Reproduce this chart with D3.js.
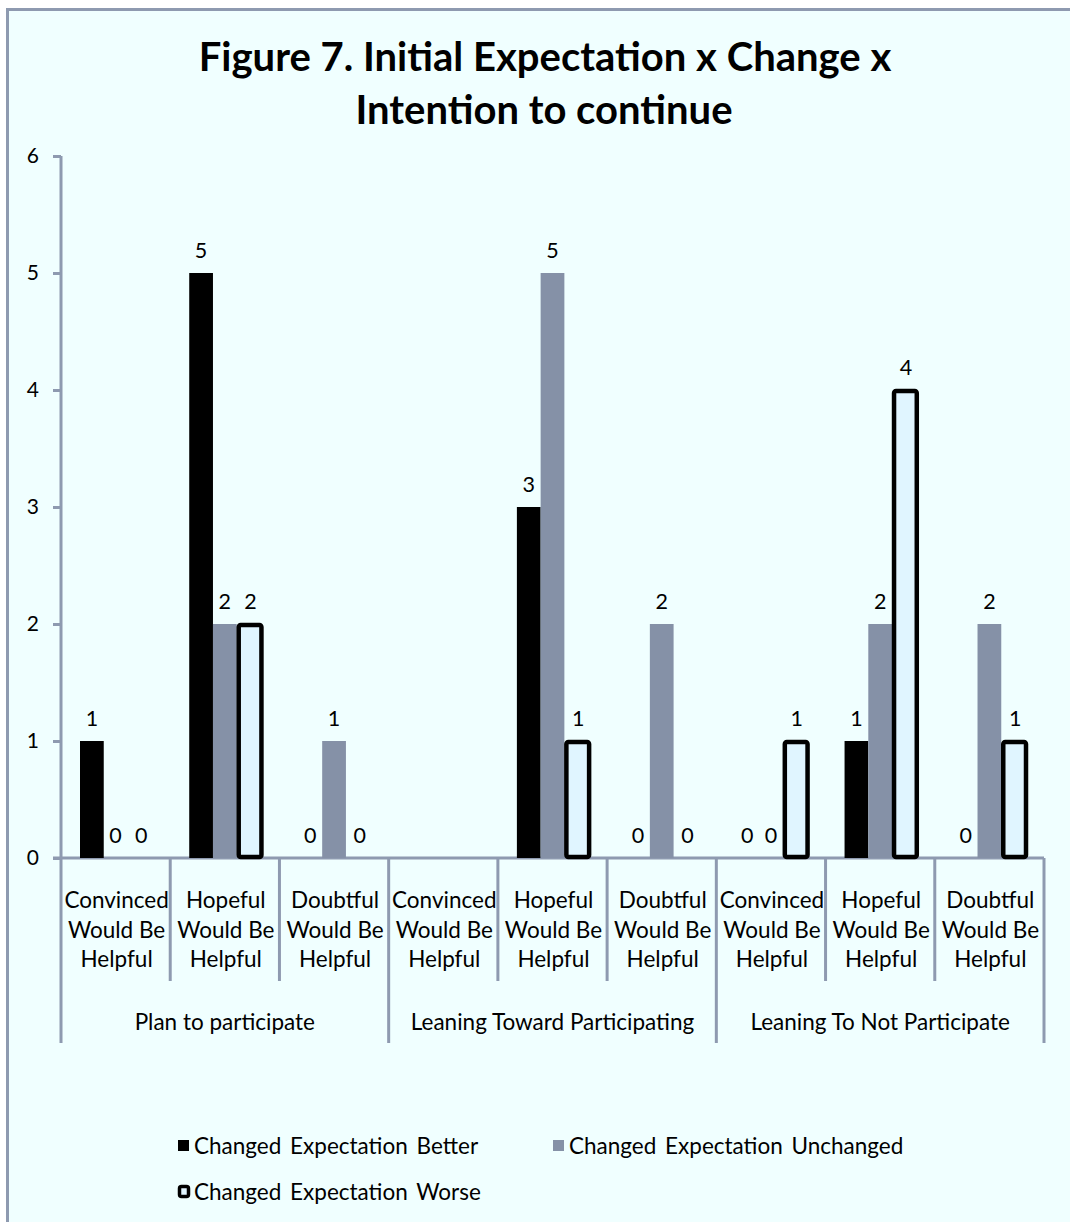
<!DOCTYPE html>
<html>
<head>
<meta charset="utf-8">
<script src="https://cdn.jsdelivr.net/npm/d3@7"></script>
<style>
  html, body { margin: 0; padding: 0; background: #ffffff; }
  svg { display: block; }
  text { font-family: Lato, "Open Sans", sans-serif; fill: #000; }
</style>
</head>
<body>
<svg id="chart" width="1070" height="1222"></svg>
<script>
// Outer grouping (intention to continue) and inner grouping (initial expectation)
const groups = ["Plan to participate", "Leaning Toward Participating", "Leaning To Not Participate"];
const subcats = [["Convinced", "Would Be", "Helpful"], ["Hopeful", "Would Be", "Helpful"], ["Doubtful", "Would Be", "Helpful"]];
const seriesNames = ["Changed Expectation Better", "Changed Expectation Unchanged", "Changed Expectation Worse"];

// Counts per category, in group order (null = no data for that cell)
const better    = [1, 5, 0,  null, 3, 0,  0, 1, 0];
const unchanged = [0, 2, 1,  null, 5, 2,  0, 2, 2];
const worse     = [0, 2, 0,  null, 1, 0,  1, 4, 1];

const yTicks = [0, 1, 2, 3, 4, 5, 6];

const colors = { better: "#000000", unchanged: "#8591a7", worse: "#e0f5ff" };
const axisColor = "#8e9ab0";

const svg = d3.select("#chart");

// Chart area background with its frame
svg.append("rect")
  .attr("x", 7.5).attr("y", 9.5)
  .attr("width", 1200).attr("height", 1400)
  .attr("fill", "#f0ffff")
  .attr("stroke", axisColor).attr("stroke-width", 3);

// Title
const title = svg.append("text")
  .attr("text-anchor", "middle")
  .style("font-weight", "bold").style("font-size", "40px");
title.append("tspan").attr("x", 545).attr("y", 71).text("Figure 7. Initial Expectation x Change x");
title.append("tspan").attr("x", 544).attr("y", 124).text("Intention to continue");

// Scales
const cats = d3.range(groups.length * subcats.length);
const x0 = d3.scaleBand().domain(cats).range([61, 1044]).padding(0);
const x1 = d3.scaleBand().domain([0, 1, 2]).range([19, x0.bandwidth() - 19]).padding(0);
const y = d3.scaleLinear().domain([0, 6]).range([858, 156]);

// Y axis
const yAxis = svg.append("g")
  .attr("transform", "translate(61,0)")
  .call(d3.axisLeft(y).tickValues(yTicks).tickSize(8).tickPadding(14).tickFormat(d3.format("d")));
yAxis.select(".domain").remove();
yAxis.selectAll(".tick line").attr("stroke", axisColor).attr("stroke-width", 3);
yAxis.selectAll(".tick text").style("font-size", "21px").style("font-family", "Lato, sans-serif").attr("fill", "#000");

// Vertical axis line, continued down as the outer group divider
svg.append("line")
  .attr("x1", 61).attr("x2", 61).attr("y1", y(6)).attr("y2", 1043)
  .attr("stroke", axisColor).attr("stroke-width", 3);

// Baseline
svg.append("line")
  .attr("x1", 53).attr("x2", x0.range()[1]).attr("y1", y(0)).attr("y2", y(0))
  .attr("stroke", axisColor).attr("stroke-width", 3);

// Category dividers (short) and group dividers (long)
cats.forEach(i => {
  const xr = x0(i) + x0.bandwidth();
  const isGroupEnd = (i + 1) % subcats.length === 0;
  svg.append("line")
    .attr("x1", xr).attr("x2", xr)
    .attr("y1", y(0)).attr("y2", isGroupEnd ? 1043 : 981)
    .attr("stroke", axisColor).attr("stroke-width", 3);
});

// Category labels
cats.forEach(i => {
  const lines = subcats[i % subcats.length];
  const t = svg.append("text")
    .attr("text-anchor", "middle").style("font-size", "22.5px");
  lines.forEach((ln, k) => {
    t.append("tspan").attr("x", x0(i) + x0.bandwidth() / 2 + 1).attr("y", 908 + k * 29.5).text(ln);
  });
});

// Group labels
groups.forEach((g, gi) => {
  const xs = x0(gi * subcats.length);
  const xe = x0(gi * subcats.length + subcats.length - 1) + x0.bandwidth();
  svg.append("text")
    .attr("text-anchor", "middle").style("font-size", "22.5px")
    .attr("x", (xs + xe) / 2).attr("y", 1030).text(g);
});

// Bars
const seriesData = [
  { key: "better", values: better },
  { key: "unchanged", values: unchanged },
  { key: "worse", values: worse }
];

seriesData.forEach((s, si) => {
  const items = s.values.map((v, i) => ({ v, i })).filter(d => d.v !== null);
  const bars = svg.append("g").selectAll("rect").data(items.filter(d => d.v > 0)).join("rect")
    .attr("x", d => x0(d.i) + x1(si))
    .attr("y", d => y(d.v))
    .attr("width", x1.bandwidth())
    .attr("height", d => y(0) - y(d.v))
    .attr("fill", colors[s.key]);
  if (s.key === "worse") {
    bars.attr("x", d => x0(d.i) + x1(si) + 2)
      .attr("width", x1.bandwidth() - 1)
      .attr("y", d => y(d.v) + 1)
      .attr("height", d => y(0) - y(d.v) - 2)
      .attr("rx", 2)
      .attr("stroke", "#000").attr("stroke-width", 4.5);
  }
  // Value labels
  svg.append("g").selectAll("text").data(items).join("text")
    .attr("text-anchor", "middle").style("font-size", "21.5px")
    .attr("x", d => x0(d.i) + x1(si) + x1.bandwidth() / 2 + (s.key === "worse" ? 2 : 0))
    .attr("y", d => y(d.v) - 15)
    .text(d => d.v);
});

// Legend
const legend = svg.append("g");
const legendItems = [
  { name: seriesNames[0], key: "better", x: 178, y: 1154 },
  { name: seriesNames[1], key: "unchanged", x: 553, y: 1154 },
  { name: seriesNames[2], key: "worse", x: 178, y: 1200 }
];
legendItems.forEach(it => {
  if (it.key === "worse") {
    legend.append("rect")
      .attr("x", it.x + 1.5).attr("y", it.y - 13.5).attr("width", 9).attr("height", 10)
      .attr("rx", 2)
      .attr("fill", colors.worse).attr("stroke", "#000").attr("stroke-width", 3.5);
  } else {
    legend.append("rect")
      .attr("x", it.x).attr("y", it.y - 14).attr("width", 11).attr("height", 11)
      .attr("fill", colors[it.key]);
  }
  legend.append("text")
    .attr("x", it.x + 16).attr("y", it.y)
    .style("font-size", "22.5px").style("word-spacing", "3px")
    .text(it.name);
});
</script>
</body>
</html>
